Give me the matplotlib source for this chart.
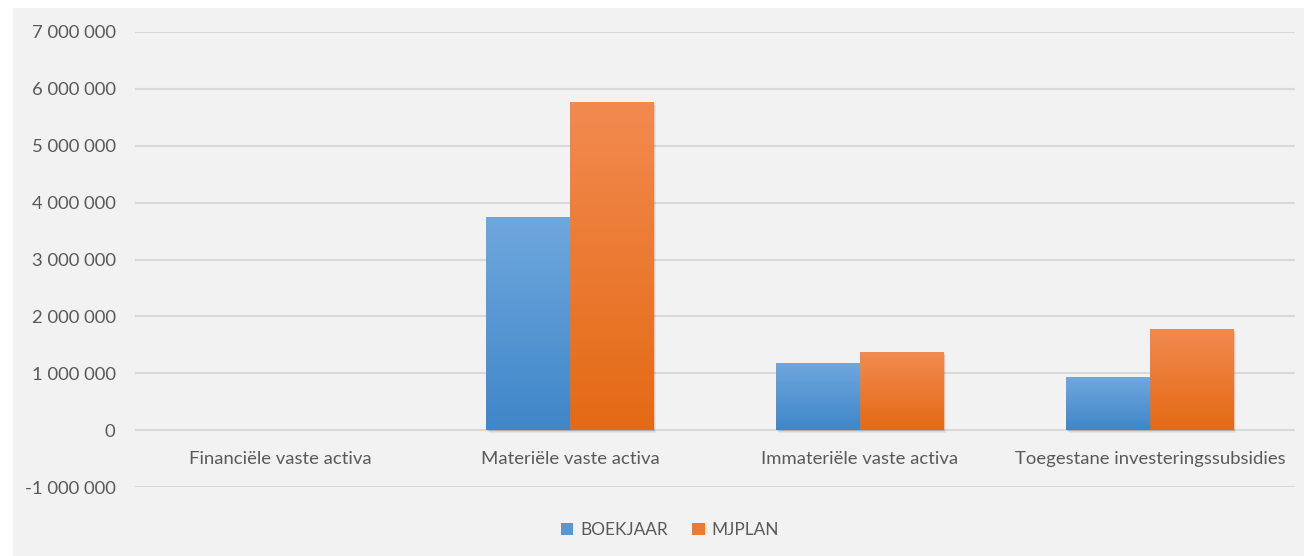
import numpy as np
import matplotlib.pyplot as plt
from matplotlib.colors import LinearSegmentedColormap
from matplotlib.patches import Rectangle
from matplotlib.ticker import FuncFormatter

# data
categories = ['Financiële vaste activa', 'Materiële vaste activa',
              'Immateriële vaste activa', 'Toegestane investeringssubsidies']
boekjaar = [3000, 3750000, 1180000, 930000]
mjplan = [4000, 5770000, 1370000, 1780000]
series_names = ['BOEKJAAR', 'MJPLAN']
yticks = [-1000000, 0, 1000000, 2000000, 3000000, 4000000, 5000000, 6000000, 7000000]

bg = '#f2f2f2'
txt = '#595959'
grid = '#d9d9d9'
fs = 13.3

blue_cm = LinearSegmentedColormap.from_list('b', ['#3f87c9', '#6fa7dd'])
orange_cm = LinearSegmentedColormap.from_list('o', ['#e46a15', '#f28a4f'])

plt.rcParams['font.family'] = ['Lato', 'DejaVu Sans']

fig = plt.figure(figsize=(13.04, 5.56), dpi=100)
fig.patch.set_facecolor('white')
# gray chart area, with white strip left and top
fig.patches.append(Rectangle((13 / 1304, 0), 1 - 13 / 1304, 1 - 8 / 556,
                             transform=fig.transFigure, facecolor=bg,
                             edgecolor='none', zorder=-10))

ax = fig.add_axes([135 / 1304, 1 - 487 / 556, (1295 - 135) / 1304, (487 - 32) / 556])
ax.set_facecolor('none')
for s in ax.spines.values():
    s.set_visible(False)

ax.set_yticks(yticks)
ax.yaxis.set_major_formatter(FuncFormatter(lambda v, p: f'{int(v):,}'.replace(',', ' ')))
ax.tick_params(axis='y', length=0, pad=14, labelsize=fs, labelcolor=txt)
ax.set_xticks([])
ax.grid(axis='y', color=grid, linewidth=1.5, zorder=0)
ax.set_axisbelow(True)

w = 0.288
x = np.arange(len(categories))


def grad_bars(xs, vals, cmap, label):
    bars = ax.bar(xs, vals, w, color=cmap(0.5), label=label, zorder=3, linewidth=0)
    for b in bars:
        x0, y0 = b.get_x(), b.get_y()
        bw, bh = b.get_width(), b.get_height()
        # soft shadow
        for k in range(1, 5):
            sh = Rectangle((x0 + 0.002 * k, y0 - 12000 * k), bw, bh, facecolor='k',
                           alpha=0.05, edgecolor='none', zorder=2)
            ax.add_patch(sh)
        grad = np.linspace(0, 1, 100).reshape(-1, 1)
        im = ax.imshow(grad, extent=[x0, x0 + bw, y0, y0 + bh], origin='lower',
                       cmap=cmap, aspect='auto', zorder=3)
        im.set_clip_path(b)
    return bars


grad_bars(x - w / 2, boekjaar, blue_cm, series_names[0])
grad_bars(x + w / 2, mjplan, orange_cm, series_names[1])
ax.set_aspect('auto')
ax.set_xlim(-0.5, 3.5)
ax.set_ylim(-1000000, 7000000)

# category labels sit just under the zero line
for i, c in enumerate(categories):
    ax.text(i, -500000, c, ha='center', va='center', fontsize=fs, color=txt)

leg = fig.legend(loc='center', bbox_to_anchor=(670 / 1304, 1 - 530 / 556), ncol=2,
                 frameon=False, fontsize=12.4, handlelength=0.72, handleheight=0.72,
                 handletextpad=0.4, columnspacing=1.4)
for t in leg.get_texts():
    t.set_color(txt)

fig.savefig('out.png', dpi=100)
